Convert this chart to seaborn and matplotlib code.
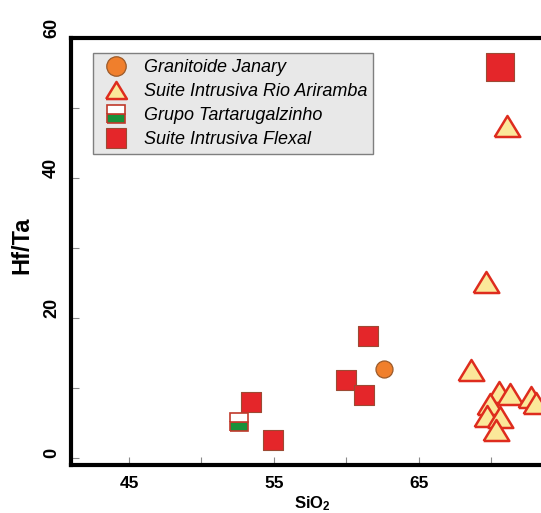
import numpy as np
import pandas as pd
import matplotlib
matplotlib.use("Agg")
import matplotlib.pyplot as plt
from matplotlib.lines import Line2D
import seaborn as sns

# Hf/Ta versus SiO2 for the four rock units
janary_sio2 = [62.6]
janary_hfta = [12.7]

ariramba_sio2 = [71.05, 69.6, 68.6, 70.5, 71.3, 72.7, 73.05, 69.9, 69.7, 70.6, 70.3]
ariramba_hfta = [47.4, 25.2, 12.6, 9.5, 9.2, 8.8, 7.9, 7.8, 6.0, 5.9, 4.0]

tartarugal_sio2 = [52.6]
tartarugal_hfta = [5.1]

flexal_sio2 = [70.6, 61.5, 60.0, 61.2, 53.4, 54.9]
flexal_hfta = [55.9, 17.4, 11.1, 9.0, 8.0, 2.6]

labels = ["Granitoide Janary", "Suite Intrusiva Rio Ariramba",
          "Grupo Tartarugalzinho", "Suite Intrusiva Flexal"]

x_major = [45, 55, 65]
x_minor = [50, 60, 70]
y_major = [0, 20, 40, 60]
y_minor = [10, 30, 50]

sns.set_theme(style="white")
plt.rcParams["font.family"] = ["Liberation Sans", "DejaVu Sans"]
plt.rcParams["mathtext.fontset"] = "custom"
plt.rcParams["mathtext.bf"] = "Liberation Sans:bold"
plt.rcParams["mathtext.rm"] = "Liberation Sans"
plt.rcParams["text.color"] = "black"
plt.rcParams["axes.labelcolor"] = "black"

ORANGE, ORANGE_EDGE = "#f07f2c", "#9a5a2a"
YELLOW, TRI_EDGE = "#fbe89a", "#de2c1e"
RED, RED_EDGE = "#e4262a", "#9c4a34"
GREEN = "#17913a"

# wide, flat triangle marker
tri = [(-1.0, -0.82), (1.0, -0.82), (0.0, 0.82), (-1.0, -0.82)]

fig = plt.figure(figsize=(5.41, 5.13), dpi=100)
W, H = 541, 513
ax = fig.add_axes([71 / W, (H - 464.5) / H, 493 / W, (464.5 - 38) / H])
ax.set_facecolor("white")

df_fl = pd.DataFrame({"SiO2": flexal_sio2, "HfTa": flexal_hfta})
big = df_fl["HfTa"] > 50
sns.scatterplot(data=df_fl[~big], x="SiO2", y="HfTa", marker="s", s=190,
                color=RED, edgecolor=RED_EDGE, linewidth=0.8, ax=ax, zorder=3)
sns.scatterplot(data=df_fl[big], x="SiO2", y="HfTa", marker="s", s=400,
                color=RED, edgecolor=RED_EDGE, linewidth=0.8, ax=ax, zorder=3)

df_ja = pd.DataFrame({"SiO2": janary_sio2, "HfTa": janary_hfta})
sns.scatterplot(data=df_ja, x="SiO2", y="HfTa", marker="o", s=150,
                color=ORANGE, edgecolor=ORANGE_EDGE, linewidth=0.9, ax=ax, zorder=3)

df_ar = pd.DataFrame({"SiO2": ariramba_sio2, "HfTa": ariramba_hfta})
sns.scatterplot(data=df_ar, x="SiO2", y="HfTa", marker=tri, s=340,
                color=YELLOW, edgecolor=TRI_EDGE, linewidth=1.8, ax=ax, zorder=3)

ax.plot(tartarugal_sio2, tartarugal_hfta, ls="", marker="s", ms=13.5,
        fillstyle="bottom", markerfacecolor=GREEN, markerfacecoloralt="white",
        markeredgecolor="#c0392b", markeredgewidth=1.2, zorder=3)

ax.set_xlim(41, 75)
ax.set_ylim(-0.9, 60)
ax.set_xticks(x_major)
ax.set_xticks(x_minor, minor=True)
ax.set_yticks(y_major)
ax.set_yticks(y_minor, minor=True)

for s in ["left", "bottom", "top", "right"]:
    ax.spines[s].set_linewidth(3)
    ax.spines[s].set_color("black")

ax.tick_params(which="both", direction="in", length=5.5, width=0.8,
               color="#8a8a8a", labelcolor="black",
               top=False, right=False, left=True, bottom=True)
ax.tick_params(axis="x", which="major", pad=8, labelsize=12.5)
ax.tick_params(axis="y", which="major", pad=8, labelsize=13)
for t in ax.get_xticklabels():
    t.set_fontweight("bold")
for t in ax.get_yticklabels():
    t.set_fontweight("bold")
    t.set_rotation(90)
    t.set_va("bottom")

ax.set_xlabel(r"$\mathbf{SiO_2}$", fontsize=12)
ax.set_ylabel("Hf/Ta", fontsize=17, fontweight="bold")
ax.xaxis.set_label_coords(0.489, -0.07)
ax.yaxis.set_label_coords(-0.076, 0.515)

handles = [
    Line2D([], [], ls="", marker="o", ms=14, mfc=ORANGE, mec=ORANGE_EDGE, mew=0.9),
    Line2D([], [], ls="", marker=tri, ms=15, mfc=YELLOW, mec=TRI_EDGE, mew=1.8),
    Line2D([], [], ls="", marker="s", ms=13, fillstyle="bottom", mfc=GREEN,
           mfcalt="white", mec="#c0392b", mew=1.2),
    Line2D([], [], ls="", marker="s", ms=14, mfc=RED, mec=RED_EDGE, mew=0.8),
]
leg = ax.legend(handles, labels, loc="upper left",
                bbox_to_anchor=(93 / W, 1 - 53 / H), bbox_transform=fig.transFigure,
                borderaxespad=0, borderpad=0.35, handlelength=1.9, handletextpad=0.55,
                labelspacing=0.38, fancybox=False, framealpha=1,
                facecolor="#e8e8e8", edgecolor="#7f7f7f",
                prop={"family": "Liberation Sans", "style": "italic", "size": 13})
leg.get_frame().set_linewidth(1.0)
leg.set_zorder(5)

fig.savefig("out.png", dpi=100, facecolor="white")
